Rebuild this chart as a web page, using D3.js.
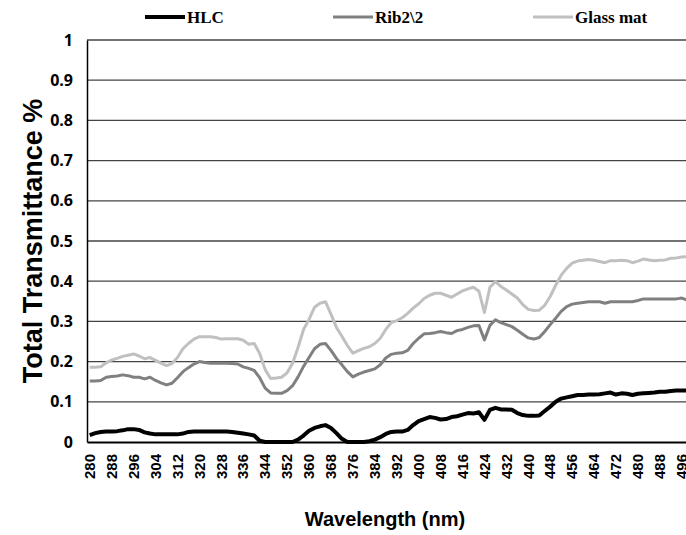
<!DOCTYPE html>
<html>
<head>
<meta charset="utf-8">
<script src="https://cdn.jsdelivr.net/npm/d3@7"></script>
<style>
  body { margin: 0; background: #fff; }
  svg { display: block; }
</style>
</head>
<body>
<div id="chart"></div>
<script>
// wavelength categories (nm), one every 2 nm
let wavelengths = d3.range(280, 500, 2)

// tick labels shown on the x axis (every 4th category)
let xTickLabels = [280, 288, 296, 304, 312, 320, 328, 336, 344, 352, 360, 368, 376, 384,
  392, 400, 408, 416, 424, 432, 440, 448, 456, 464, 472, 480, 488, 496]

let yTicks = [0, 0.1, 0.2, 0.3, 0.4, 0.5, 0.6, 0.7, 0.8, 0.9, 1]

let seriesNames = ["HLC", "Rib2\\2", "Glass mat"]

let hlc = [0.017, 0.022, 0.025, 0.026, 0.026, 0.027, 0.029, 0.032, 0.032, 0.030,
  0.024, 0.021, 0.019, 0.019, 0.019, 0.019, 0.019, 0.021, 0.025, 0.026,
  0.026, 0.026, 0.026, 0.026, 0.026, 0.026, 0.025, 0.023, 0.021, 0.019,
  0.016, 0.003, 0, 0, 0, 0, 0, 0, 0.006, 0.016,
  0.028, 0.035, 0.039, 0.042, 0.035, 0.022, 0.008, 0, 0, 0,
  0, 0.002, 0.006, 0.012, 0.020, 0.025, 0.026, 0.026, 0.030, 0.042,
  0.052, 0.057, 0.062, 0.060, 0.056, 0.057, 0.062, 0.064, 0.068, 0.072,
  0.071, 0.074, 0.055, 0.080, 0.085, 0.081, 0.081, 0.080, 0.072, 0.067,
  0.065, 0.065, 0.066, 0.077, 0.088, 0.100, 0.108, 0.111, 0.114, 0.117,
  0.117, 0.118, 0.118, 0.119, 0.121, 0.123, 0.118, 0.121, 0.120, 0.117,
  0.120, 0.121, 0.122, 0.123, 0.125, 0.125, 0.127, 0.128, 0.128, 0.128]

let rib = [0.152, 0.152, 0.153, 0.161, 0.163, 0.164, 0.167, 0.165, 0.161, 0.161,
  0.157, 0.161, 0.153, 0.147, 0.142, 0.146, 0.160, 0.175, 0.185, 0.194,
  0.200, 0.198, 0.196, 0.196, 0.196, 0.196, 0.195, 0.194, 0.187, 0.183,
  0.178, 0.160, 0.134, 0.122, 0.121, 0.121, 0.128, 0.140, 0.162, 0.188,
  0.210, 0.232, 0.243, 0.245, 0.228, 0.208, 0.192, 0.175, 0.162, 0.169,
  0.174, 0.178, 0.182, 0.192, 0.209, 0.218, 0.221, 0.222, 0.228, 0.245,
  0.258, 0.269, 0.270, 0.272, 0.275, 0.272, 0.270, 0.277, 0.280, 0.285,
  0.289, 0.290, 0.254, 0.290, 0.304, 0.297, 0.292, 0.287, 0.278, 0.268,
  0.259, 0.256, 0.260, 0.275, 0.292, 0.308, 0.325, 0.337, 0.343, 0.345,
  0.347, 0.349, 0.349, 0.349, 0.345, 0.349, 0.349, 0.349, 0.349, 0.349,
  0.352, 0.356, 0.356, 0.356, 0.356, 0.356, 0.356, 0.356, 0.358, 0.353]

let glass = [0.186, 0.186, 0.187, 0.197, 0.204, 0.208, 0.213, 0.216, 0.219, 0.214,
  0.207, 0.210, 0.203, 0.196, 0.190, 0.195, 0.210, 0.232, 0.245, 0.256,
  0.262, 0.262, 0.262, 0.260, 0.256, 0.257, 0.257, 0.257, 0.253, 0.243,
  0.245, 0.220, 0.180, 0.158, 0.159, 0.161, 0.172, 0.196, 0.235, 0.280,
  0.305, 0.335, 0.345, 0.349, 0.318, 0.285, 0.263, 0.240, 0.221, 0.227,
  0.233, 0.237, 0.245, 0.258, 0.280, 0.297, 0.302, 0.309, 0.320, 0.333,
  0.344, 0.357, 0.365, 0.370, 0.370, 0.365, 0.360, 0.368, 0.376, 0.381,
  0.385, 0.375, 0.322, 0.385, 0.399, 0.387, 0.378, 0.368, 0.358, 0.342,
  0.330, 0.327, 0.328, 0.340, 0.362, 0.390, 0.415, 0.432, 0.445, 0.450,
  0.452, 0.454, 0.452, 0.449, 0.446, 0.451, 0.451, 0.452, 0.451, 0.446,
  0.450, 0.455, 0.453, 0.451, 0.452, 0.453, 0.457, 0.458, 0.460, 0.461]

let seriesValues = [hlc, rib, glass]
let seriesColors = ["#000000", "#808080", "#c0c0c0"]
let seriesWidths = [4, 3, 3]

let W = 686, H = 535
let plot = { left: 87, right: 690, top: 40, bottom: 442 }

let svg = d3.select("#chart")
  .append("svg")
  .attr("width", W)
  .attr("height", H)

let x = d3.scaleBand()
  .domain(wavelengths)
  .range([plot.left, plot.right])

let y = d3.scaleLinear()
  .domain([0, 1])
  .range([plot.bottom, plot.top])

// horizontal gridlines
svg.append("g")
  .selectAll("line")
  .data(yTicks.filter(d => d > 0))
  .enter()
  .append("line")
  .attr("x1", plot.left)
  .attr("x2", plot.right)
  .attr("y1", d => y(d))
  .attr("y2", d => y(d))
  .attr("stroke", "#444")
  .attr("stroke-width", 1.3)

// y axis
let yAxis = svg.append("g")
  .attr("transform", "translate(" + plot.left + ",0)")
  .call(d3.axisLeft(y).tickValues(yTicks).tickSize(0).tickPadding(14)
    .tickFormat(d => d3.format("~g")(d)))
yAxis.select(".domain").attr("stroke", "#000").attr("stroke-width", 1.5)
yAxis.selectAll("text")
  .style("font-family", "'Open Sans', sans-serif")
  .style("font-weight", "bold")
  .style("font-size", "16px")
  .attr("fill", "#000")

// x axis
let xAxis = svg.append("g")
  .attr("transform", "translate(0," + plot.bottom + ")")
  .call(d3.axisBottom(x).tickValues(xTickLabels).tickSize(0))
xAxis.select(".domain").attr("stroke", "#000").attr("stroke-width", 2)
xAxis.selectAll("text")
  .attr("transform", "rotate(-90)")
  .attr("x", -12)
  .attr("y", 0)
  .attr("dy", "0.35em")
  .style("text-anchor", "end")
  .style("font-family", "'Liberation Sans', Arial, sans-serif")
  .style("font-weight", "bold")
  .style("font-size", "15px")
  .attr("fill", "#000")

// lines
let line = d3.line()
  .x((d, i) => x(wavelengths[i]) + x.bandwidth() / 2)
  .y(d => y(d))

seriesValues.forEach(function (vals, k) {
  svg.append("path")
    .datum(vals)
    .attr("d", line)
    .attr("fill", "none")
    .attr("stroke", seriesColors[k])
    .attr("stroke-width", seriesWidths[k])
    .attr("stroke-linejoin", "round")
})

// axis titles
svg.append("text")
  .attr("transform", "translate(42," + (plot.top + plot.bottom) / 2 + ") rotate(-90)")
  .attr("text-anchor", "middle")
  .style("font-family", "'Liberation Sans', Arial, sans-serif")
  .style("font-weight", "bold")
  .style("font-size", "27px")
  .text("Total Transmittance %")

svg.append("text")
  .attr("x", 385)
  .attr("y", 526)
  .attr("text-anchor", "middle")
  .style("font-family", "'Liberation Sans', Arial, sans-serif")
  .style("font-weight", "bold")
  .style("font-size", "20px")
  .text("Wavelength (nm)")

// legend
let legendX = [145, 333, 533]
let legend = svg.append("g")
seriesNames.forEach(function (name, k) {
  legend.append("line")
    .attr("x1", legendX[k])
    .attr("x2", legendX[k] + 40)
    .attr("y1", 17)
    .attr("y2", 17)
    .attr("stroke", seriesColors[k])
    .attr("stroke-width", seriesWidths[k])
  legend.append("text")
    .attr("x", legendX[k] + 42)
    .attr("y", 23)
    .style("font-family", "'Liberation Serif', 'Times New Roman', serif")
    .style("font-weight", "bold")
    .style("font-size", "17px")
    .text(name)
})
</script>
</body>
</html>
